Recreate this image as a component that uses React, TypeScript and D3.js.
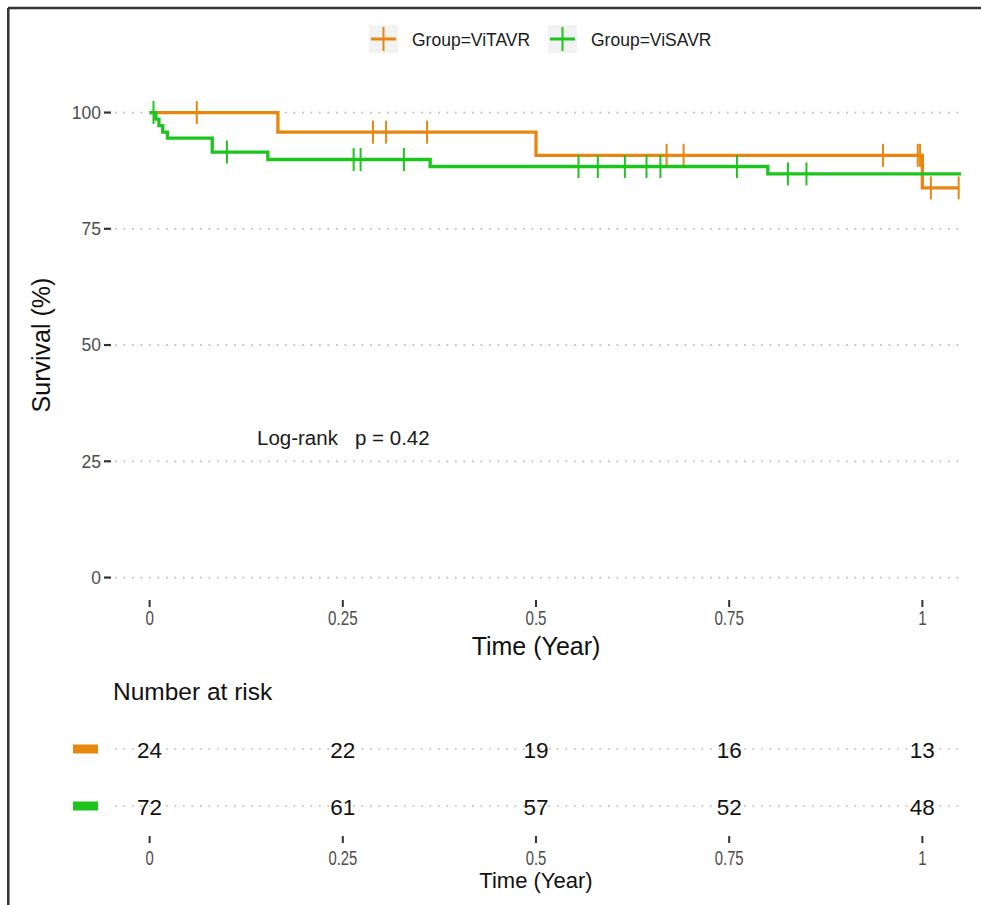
import React from "react";
import * as d3 from "d3";

// survival steps (time in years, survival %)
const groups = ["ViTAVR", "ViSAVR"];
const groupColors = ["#E8870F", "#1DC41D"];

const tavrSteps = [
  { t: 0, s: 100 },
  { t: 0.166, s: 95.8 },
  { t: 0.5, s: 90.8 },
  { t: 1.0, s: 83.8 },
];
const tavrEnd = 1.047;
const tavrCensor = [0.061, 0.289, 0.306, 0.359, 0.669, 0.691, 0.949, 0.994, 0.997, 1.011, 1.047];

const savrSteps = [
  { t: 0, s: 100 },
  { t: 0.008, s: 98.6 },
  { t: 0.012, s: 97.2 },
  { t: 0.017, s: 95.8 },
  { t: 0.023, s: 94.5 },
  { t: 0.081, s: 91.5 },
  { t: 0.153, s: 89.9 },
  { t: 0.363, s: 88.4 },
  { t: 0.8, s: 86.8 },
];
const savrEnd = 1.05;
const savrCensor = [0.005, 0.1, 0.264, 0.273, 0.329, 0.555, 0.58, 0.615, 0.643, 0.661, 0.76, 0.826, 0.85];

const xTicks = [0, 0.25, 0.5, 0.75, 1];
const xTickLabels = ["0", "0.25", "0.5", "0.75", "1"];
const yTicks = [0, 25, 50, 75, 100];
const riskTavr = [24, 22, 19, 16, 13];
const riskSavr = [72, 61, 57, 52, 48];
const pText = "Log-rank   p = 0.42";

const font = "'Liberation Sans', Arial, Helvetica, sans-serif";

function survAt(steps, t) {
  let s = steps[0].s;
  steps.forEach((d) => {
    if (d.t <= t) s = d.s;
  });
  return s;
}

export default function App() {
  const W = 981;
  const H = 905;
  const x = d3.scaleLinear().domain([-0.05, 1.05]).range([111, 961]);
  const y = d3.scaleLinear().domain([-5, 105]).range([600.8, 89.3]);
  const rowY = d3.scalePoint().domain(groups).range([749, 806]);

  const line = d3
    .line()
    .x((d) => x(d.t))
    .y((d) => y(d.s))
    .curve(d3.curveStepAfter);

  const series = [
    { steps: tavrSteps, end: tavrEnd, censor: tavrCensor, color: groupColors[0], risk: riskTavr, name: groups[0] },
    { steps: savrSteps, end: savrEnd, censor: savrCensor, color: groupColors[1], risk: riskSavr, name: groups[1] },
  ];

  const dotted = { stroke: "#BBBBBB", strokeWidth: 1.7, strokeDasharray: "1.7 6.8" };
  const x0 = x.range()[0] + 4;
  const x1 = x.range()[1] - 1;

  return (
    <svg
      width={W}
      height={H}
      style={{ position: "absolute", left: 0, top: 0, display: "block", background: "#fff" }}
      fontFamily={font}
    >
      {/* frame */}
      <line x1={8} y1={8} x2={W} y2={8} stroke="#333" strokeWidth={2.5} />
      <line x1={8.3} y1={8} x2={8.3} y2={H} stroke="#333" strokeWidth={2.5} />

      {/* legend */}
      {series.map((sr, i) => {
        const bx = i === 0 ? 369 : 548;
        return (
          <g key={sr.name}>
            <rect x={bx} y={25} width={29} height={28} fill="#F2F2F2" />
            <line x1={bx + 2} x2={bx + 27} y1={39} y2={39} stroke={sr.color} strokeWidth={3} />
            <line x1={bx + 14.5} x2={bx + 14.5} y1={27} y2={51} stroke={sr.color} strokeWidth={2} />
            <text x={bx + 43} y={45.5} fontSize={17.5} fill="#1a1a1a">
              {"Group=" + sr.name}
            </text>
          </g>
        );
      })}

      {/* grid */}
      {yTicks.map((t) => (
        <g key={t}>
          <line x1={x0} x2={x1} y1={y(t)} y2={y(t)} {...dotted} />
          <line x1={104} x2={111} y1={y(t)} y2={y(t)} stroke="#333" strokeWidth={2.2} />
          <text x={101} y={y(t) + 6.3} textAnchor="end" fontSize={17.5} fill="#4D4D4D">
            {t}
          </text>
        </g>
      ))}

      {/* curves */}
      {series.map((sr) => {
        const pts = [...sr.steps, { t: sr.end, s: sr.steps[sr.steps.length - 1].s }];
        return (
          <g key={sr.name}>
            <path d={line(pts)} fill="none" stroke={sr.color} strokeWidth={3.3} />
            {sr.censor.map((c, j) => {
              const s = survAt(sr.steps, c);
              return (
                <line key={j} x1={x(c)} x2={x(c)} y1={y(s) - 11.5} y2={y(s) + 11.5} stroke={sr.color} strokeWidth={2} />
              );
            })}
          </g>
        );
      })}

      <text x={257} y={445} fontSize={20.5} fill="#1a1a1a" style={{ whiteSpace: "pre" }}>
        {pText}
      </text>

      {/* x axis main */}
      {xTicks.map((t, i) => (
        <g key={t}>
          <line x1={x(t)} x2={x(t)} y1={600} y2={607} stroke="#333" strokeWidth={2} />
          <text
            transform={`translate(${x(t)},${625}) scale(0.76,1)`}
            textAnchor="middle"
            fontSize={20}
            fill="#4D4D4D"
          >
            {xTickLabels[i]}
          </text>
        </g>
      ))}
      <text x={x(0.5)} y={655} textAnchor="middle" fontSize={25} fill="#111">
        Time (Year)
      </text>
      <text transform={`translate(50,345) rotate(-90)`} textAnchor="middle" fontSize={25} fill="#111">
        Survival (%)
      </text>

      {/* risk table */}
      <text x={113} y={700} fontSize={24.5} fill="#111">
        Number at risk
      </text>
      {series.map((sr) => {
        const ry = rowY(sr.name);
        return (
          <g key={sr.name}>
            <rect x={73} y={ry - 4.5} width={25} height={9} fill={sr.color} />
            <line x1={x0} x2={x1} y1={ry} y2={ry} {...dotted} />
            {xTicks.map((t, i) => (
              <text key={t} x={x(t)} y={ry + 8.5} textAnchor="middle" fontSize={22.5} fill="#111">
                {sr.risk[i]}
              </text>
            ))}
          </g>
        );
      })}
      {xTicks.map((t, i) => (
        <g key={"b" + t}>
          <line x1={x(t)} x2={x(t)} y1={836} y2={843} stroke="#333" strokeWidth={2} />
          <text
            transform={`translate(${x(t)},${865}) scale(0.76,1)`}
            textAnchor="middle"
            fontSize={19.5}
            fill="#4D4D4D"
          >
            {xTickLabels[i]}
          </text>
        </g>
      ))}
      <text x={x(0.5)} y={888} textAnchor="middle" fontSize={22} fill="#111">
        Time (Year)
      </text>
    </svg>
  );
}
